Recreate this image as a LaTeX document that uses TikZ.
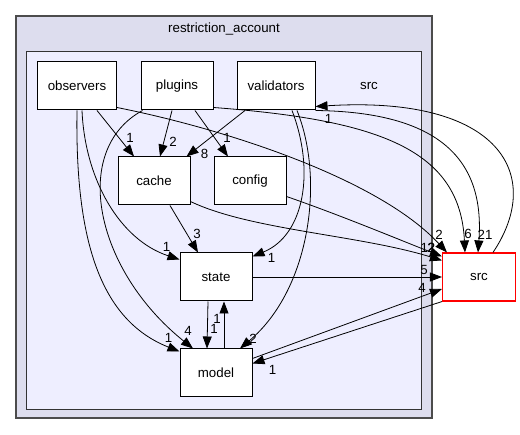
\documentclass[tikz,border=0pt]{standalone}
\usepackage{fontspec}
\setmainfont{Liberation Sans}
\usetikzlibrary{arrows.meta}
\definecolor{grupo}{RGB}{221,221,238}
\definecolor{subgrupo}{RGB}{238,238,255}
\begin{document}
\begin{tikzpicture}[x=1pt, y=-1pt,
      every node/.style={font=\fontsize{13.3}{15}\selectfont},
      carpeta/.style={draw=black, fill=white, line width=1pt, inner sep=0pt, minimum width=72pt, minimum height=48pt},
      externa/.style={carpeta, draw=red, line width=1.1pt},
      dep/.style={-{Triangle[length=12pt,width=9pt]}, line width=0.8pt},
      num/.style={inner sep=0pt, at end}
    ]
    \path[use as bounding box] (0,0) rectangle (520,435);
    % Grupos de directorios
    \draw[fill=grupo, draw=black!70, line width=1.3pt] (16,16) rectangle (432,418);
    \node at (224,29) {restriction\_account};
    \draw[fill=subgrupo, draw=black!80, line width=0.8pt] (26,51) rectangle (421,409);
    \node at (369,86) {src};
    % Directorios
    \node[carpeta, minimum width=79pt] (observers)  at (77,86)  {observers};
    \node[carpeta]                     (plugins)    at (177,86) {plugins};
    \node[carpeta, minimum width=78pt] (validators) at (276,86) {validators};
    \node[carpeta] (cache)  at (154,181) {cache};
    \node[carpeta] (config) at (250,181) {config};
    \node[carpeta] (state)  at (216,277) {state};
    \node[carpeta] (model)  at (216,373) {model};
    \node[externa, minimum width=73pt] (src) at (479,277) {src};
    % Dependencias desde observers
    \draw[dep] ([xshift=20pt]observers.south) -- ([xshift=-20pt]cache.north) node[num, xshift=-4pt, yshift=19pt]{1};
    \draw[dep] ([xshift=5pt]observers.south) .. controls (85,180) and (120,240) .. ([yshift=-7pt]state.north west) node[num, xshift=-13pt, yshift=13pt]{1};
    \draw[dep] (observers.south) .. controls (75,240) and (100,320) .. ([yshift=-3pt]model.north west) node[num, xshift=-11pt, yshift=14pt]{1};
    \draw[dep] ([yshift=3pt]observers.south east) .. controls (230,130) and (380,180) .. ([xshift=5pt]src.north west) node[num, xshift=-8pt, yshift=18pt]{2};
    % Dependencias desde plugins
    \draw[dep] ([xshift=-5pt]plugins.south) -- ([xshift=6pt]cache.north) node[num, xshift=13pt, yshift=15pt]{2};
    \draw[dep] ([xshift=18pt]plugins.south) -- ([xshift=-22pt]config.north) node[num, xshift=-1pt, yshift=19pt]{1};
    \draw[dep] ([xshift=2pt]plugins.south west) .. controls (70,150) and (95,270) .. ([xshift=-23pt]model.north) node[num, xshift=-5pt, yshift=18pt]{4};
    \draw[dep] ([yshift=3pt]plugins.south east) .. controls (380,120) and (460,150) .. ([xshift=-14pt]src.north) node[num, xshift=3pt, yshift=19pt]{6};
    % Dependencias desde validators
    \draw[dep] ([xshift=-31pt]validators.south) -- ([xshift=-4pt]cache.north east) node[num, xshift=18pt, yshift=3pt]{8};
    \draw[dep] ([xshift=16pt]validators.south) .. controls (315,170) and (305,235) .. ([yshift=-4pt]state.north east) node[num, xshift=19pt, yshift=-1pt]{1};
    \draw[dep] ([xshift=21pt]validators.south) .. controls (325,180) and (310,290) .. ([xshift=24pt]model.north) node[num, xshift=13pt, yshift=10pt]{2};
    \draw[dep] (validators.south east) .. controls (440,112) and (485,160) .. ([xshift=-1pt]src.north) node[num, xshift=7pt, yshift=18pt]{21};
    % Dependencias desde cache, config y state
    \draw[dep] ([xshift=16pt]cache.south) -- ([xshift=-18pt]state.north) node[num, xshift=-1pt, yshift=19pt]{3};
    \draw[dep] ([yshift=4pt]cache.south east) .. controls (250,230) and (360,235) .. ([yshift=-8pt]src.north west) node[num, xshift=-14pt, yshift=13pt]{12};
    \draw[dep] ([yshift=9pt]config.south east) .. controls (340,215) and (400,240) .. ([yshift=-4pt]src.north west) node[num, xshift=-11pt, yshift=9pt]{2};
    \draw[dep] (state.east) -- (src.west) node[num, xshift=-18pt, yshift=7pt]{5};
    \draw[dep] ([xshift=-8pt]state.south) -- ([xshift=-9pt]model.north) node[num, xshift=7pt, yshift=20pt]{1};
    \draw[dep] ([xshift=8pt]model.north) -- ([xshift=8pt]state.south) node[num, xshift=-7pt, yshift=-17pt]{1};
    % Dependencias entre model y src
    \draw[dep] ([yshift=-10pt]model.north east) -- ([yshift=-12pt]src.west) node[num, xshift=-20pt, yshift=1pt]{4};
    \draw[dep] (src.south west) -- ([yshift=-15pt]model.north east) node[num, xshift=20pt, yshift=-6pt]{1};
    \draw[dep] ([xshift=14pt]src.north) .. controls (545,175) and (500,95) .. ([yshift=4pt]validators.south east) node[num, xshift=13pt, yshift=-12pt]{1};
  \end{tikzpicture}
\end{document}
